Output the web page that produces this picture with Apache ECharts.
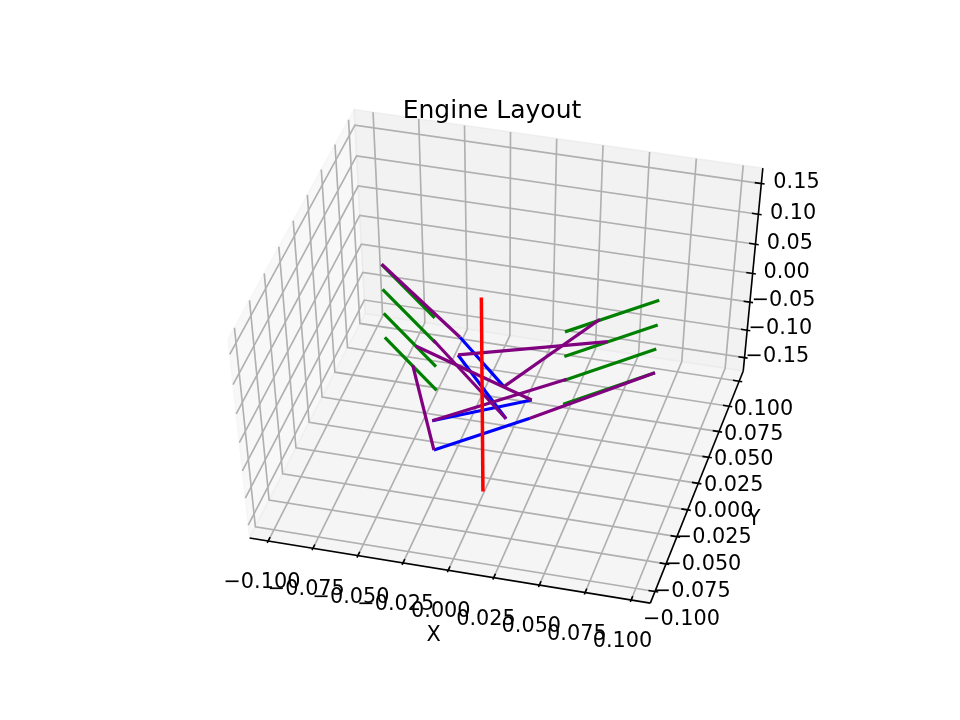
<!DOCTYPE html>
<html><head><meta charset="utf-8"><style>html,body{margin:0;background:#fff}#main{width:960px;height:720px}</style>
<script src="https://cdn.jsdelivr.net/npm/echarts@6/dist/echarts.min.js"></script></head><body><div id="main"></div><script>
// tick values and labels
var xTicks=[-0.1,-0.075,-0.05,-0.025,0,0.025,0.05,0.075,0.1];
var xLabels=['\u22120.100','\u22120.075','\u22120.050','\u22120.025','0.000','0.025','0.050','0.075','0.100'];
var yTicks=xTicks, yLabels=xLabels;
var zTicks=[-0.15,-0.1,-0.05,0,0.05,0.1,0.15];
var zLabels=['\u22120.15','\u22120.10','\u22120.05','0.00','0.05','0.10','0.15'];

// engine geometry, [x,y,z]
var crankshaft=[[[0,-0.04,0.1697],[0,-0.04,-0.1692]]];
var cylinders=[
 [[-0.0748,0.0332,0.0628],[-0.0342,-0.0076,0.0628]],[[0.0344,-0.0025,0.0628],[0.0747,0.0385,0.0628]],
 [[-0.0748,0.0332,0.0206],[-0.0342,-0.0076,0.0206]],[[0.0344,-0.0025,0.0206],[0.0747,0.0385,0.0206]],
 [[-0.0748,0.0332,-0.0211],[-0.0342,-0.0076,-0.0211]],[[0.0344,-0.0025,-0.0211],[0.0747,0.0385,-0.0211]],
 [[-0.0748,0.0332,-0.0633],[-0.0342,-0.0076,-0.0633]],[[0.0344,-0.0025,-0.0633],[0.0747,0.0385,-0.0633]]];
var crankArms=[
 [[-0.0168,-0.0213,0.0628],[0.0166,-0.0583,0.0628]],
 [[-0.0197,-0.0155,0.0206],[0.0194,-0.0645,0.0206]],
 [[0.0226,-0.0242,-0.0211],[-0.0228,-0.0557,-0.0211]],
 [[-0.0209,-0.0605,-0.0633],[0.0206,-0.0196,-0.0633]]];
var rods=[
 [[-0.0747,0.0334,0.0628],[-0.0168,-0.0213,0.0628]],[[0.0166,-0.0583,0.0628],[0.0491,0.0134,0.0628]],
 [[-0.0197,-0.0155,0.0206],[0.0530,0.0166,0.0206]],[[0.0194,-0.0645,0.0206],[-0.0359,-0.0056,0.0206]],
 [[-0.0498,0.0080,-0.0211],[0.0226,-0.0242,-0.0211]],[[-0.0228,-0.0557,-0.0211],[0.0356,-0.0011,-0.0211]],
 [[-0.0530,0.0118,-0.0633],[-0.0209,-0.0605,-0.0633]],[[0.0206,-0.0196,-0.0633],[0.0748,0.0386,-0.0633]]];

// camera, same projection as mplot3d
var elev=50, azim=-75, dist=10, xyLim=0.106, zLim=0.1677;
var H=xyLim*25/24, HZ=zLim*25/24;
var e=elev*Math.PI/180,f=azim*Math.PI/180;
var w=[Math.cos(e)*Math.cos(f),Math.cos(e)*Math.sin(f),Math.sin(e)],u=[-Math.sin(f),Math.cos(f),0];
var v=[w[1]*u[2]-w[2]*u[1],w[2]*u[0]-w[0]*u[2],w[0]*u[1]-w[1]*u[0]];
function dot(a,b){return a[0]*b[0]+a[1]*b[1]+a[2]*b[2];}
function proj(x,y,z){var m=[x/(2*xyLim),y/(2*xyLim),z/(2*zLim)],W=dist-dot(w,m);return [dot(u,m)/W,dot(v,m)/W];}
function seg(list){return list.map(function(l){return {coords:l.map(function(p){return proj(p[0],p[1],p[2]);})};});}

var grids=[],ticks=[],texts=[],tl=2*xyLim/12;
xTicks.forEach(function(t,i){
 grids.push([[t,-H,-HZ],[t,H,-HZ],[t,H,HZ]]);
 ticks.push([[t,-H+0.2*tl,-HZ],[t,-H-0.1*tl,-HZ]]);
 texts.push([t,-H-0.016,-HZ-0.0465,xLabels[i]]);
});
yTicks.forEach(function(t,i){
 grids.push([[H,t,-HZ],[-H,t,-HZ],[-H,t,HZ]]);
 ticks.push([[H-0.2*tl,t,-HZ],[H+0.1*tl,t,-HZ]]);
 texts.push([H+0.0154,t,-HZ-0.0457,yLabels[i]]);
});
zTicks.forEach(function(t,i){
 grids.push([[-H,-H,t],[-H,H,t],[H,H,t]]);
 ticks.push([[H-0.2*tl,H,t],[H+0.1*tl,H,t]]);
 texts.push([H+0.0175,H+0.0058,t,zLabels[i]]);
});
texts.push([0,-H-0.0305,-HZ-0.062,'X']);
texts.push([H+0.0327,0,-HZ-0.051,'Y']);
var axes=[[[-H,-H,-HZ],[H,-H,-HZ]],[[H,-H,-HZ],[H,H,-HZ]],[[H,H,-HZ],[H,H,HZ]]];
var panes=[
 {c:'rgba(242,242,242,0.5)',p:[[-H,-H,-HZ],[-H,H,-HZ],[-H,H,HZ],[-H,-H,HZ]]},
 {c:'rgba(230,230,230,0.5)',p:[[-H,H,-HZ],[H,H,-HZ],[H,H,HZ],[-H,H,HZ]]},
 {c:'rgba(236,236,236,0.5)',p:[[-H,-H,-HZ],[H,-H,-HZ],[H,H,-HZ],[-H,H,-HZ]]}];

function lineSeries(list,color,width,z){
 return {type:'lines',coordinateSystem:'cartesian2d',polyline:true,silent:true,z:z,
  lineStyle:{color:color,width:width,opacity:1},data:seg(list)};
}
var chart=echarts.init(document.getElementById('main'));
chart.setOption({animation:false,
 title:{text:'Engine Layout',left:492,top:99,padding:0,textAlign:'center',textStyle:{fontFamily:'DejaVu Sans',fontWeight:'normal',fontSize:25,color:'#000'}},
 grid:{left:120,top:86.4,width:744,height:554.4},
 xAxis:{type:'value',min:-0.095,max:0.09,show:false},
 yAxis:{type:'value',min:-0.095,max:0.09,show:false},
 series:[
  {type:'custom',coordinateSystem:'cartesian2d',silent:true,clip:false,z:1,data:panes.map(function(p,i){return [0,0,i];}),renderItem:function(params,api){
    var P=panes[api.value(2)];
    return {type:'polygon',shape:{points:P.p.map(function(q){return api.coord(proj(q[0],q[1],q[2]));})},style:{fill:P.c,stroke:P.c,lineWidth:1.5}};}},
  lineSeries(grids,'#b0b0b0',1.65,2),
  lineSeries(axes.concat(ticks),'#000',1.6,3),
  lineSeries(cylinders,'#008000',3.2,4),
  lineSeries(crankArms,'#0000ff',3.2,5),
  lineSeries(rods,'#800080',3.2,6),
  lineSeries(crankshaft,'#ff0000',3.5,7),
  {type:'custom',coordinateSystem:'cartesian2d',silent:true,clip:false,z:8,data:texts.map(function(t,i){return [0,0,i];}),renderItem:function(params,api){
    var t=texts[api.value(2)],c=api.coord(proj(t[0],t[1],t[2]));
    return {type:'text',style:{text:t[3],x:c[0],y:c[1],align:'center',verticalAlign:'middle',font:'20.8px "DejaVu Sans"',fill:'#000'}};}}
 ]});
</script></body></html>
